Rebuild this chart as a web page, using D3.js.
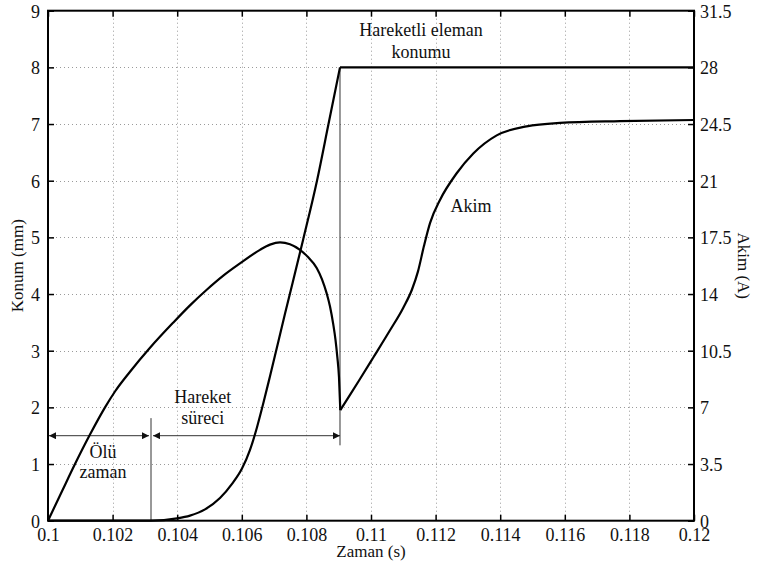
<!DOCTYPE html>
<html>
<head>
<meta charset="utf-8">
<script src="https://cdn.jsdelivr.net/npm/d3@7"></script>
<style>
  html, body { margin: 0; padding: 0; background: #fff; }
  svg text { font-family: "Liberation Serif", "Times New Roman", "DejaVu Serif", serif; fill: #111; }
</style>
</head>
<body>
<svg id="chart" width="757" height="574"></svg>
<script>
// Time axis ticks (s)
const timeTicks = [0.1, 0.102, 0.104, 0.106, 0.108, 0.11, 0.112, 0.114, 0.116, 0.118, 0.12];
const timeTickLabels = ["0.1", "0.102", "0.104", "0.106", "0.108", "0.11", "0.112", "0.114", "0.116", "0.118", "0.12"];
// Left axis: position (mm)
const posTicks = [0, 1, 2, 3, 4, 5, 6, 7, 8, 9];
// Right axis: current (A)
const curTicks = [0, 3.5, 7, 10.5, 14, 17.5, 21, 24.5, 28, 31.5];

// Moving element position (mm): dead time, travel, then held at the stop
const posRiseTime = [0.1, 0.103189, 0.103994, 0.104396, 0.104861, 0.105325, 0.105697, 0.106006, 0.106254, 0.106471, 0.106656, 0.106873, 0.107337, 0.107895, 0.108328, 0.108684, 0.10904];
const posRiseVal  = [0,   0,        0.04,     0.09,     0.20,     0.40,     0.65,     0.92,     1.25,     1.65,     2.05,     2.55,     3.65,     4.95,     6.00,     7.00,     8.0];
const posHoldTime = [0.10904, 0.12];
const posHoldVal  = [8.0, 8.0];

// Coil current (A): build-up until the armature hits the stop ...
const curRiseTime = [0.1, 0.100433, 0.100836, 0.101300, 0.101765, 0.102074, 0.102539, 0.103158, 0.103870, 0.104396, 0.104923, 0.105418, 0.105944, 0.106563, 0.106873, 0.107183,
                     0.107492, 0.107802, 0.108050, 0.108319, 0.108483, 0.108628, 0.108731, 0.108833, 0.108901, 0.108957, 0.109009, 0.10905];
const curRiseVal  = [0,   1.82,     3.50,     5.32,     7.00,     7.98,     9.20,     10.68,    12.22,    13.30,    14.28,    15.12,    15.89,    16.73,    17.05,    17.19,
                     17.08,    16.73,    16.28,    15.61,    14.91,    14.04,    13.23,    12.11,    11.17,    10.12,    8.86,     6.83];
// ... and recovery towards the steady-state value afterwards
const curSettleTime = [0.10905, 0.109350, 0.109659, 0.110071, 0.110588, 0.111000, 0.111269, 0.111455, 0.111641, 0.111827, 0.112136, 0.112653, 0.113167, 0.113892, 0.114820, 0.115851, 0.117709, 0.12];
const curSettleVal  = [6.83,    7.77,     8.75,     10.08,    11.76,    13.16,    14.28,    15.40,    16.98,    18.38,    19.81,    21.46,    22.68,    23.80,    24.36,    24.57,    24.68,    24.75];

// Annotated intervals
const deadTimeEnd = 0.103189;
const motionEnd = 0.10904;

const svg = d3.select("#chart");
const L = 48, R = 694, T = 10.7, B = 520.7;

const x = d3.scaleLinear().domain([0.1, 0.12]).range([L, R]);
const yPos = d3.scaleLinear().domain([0, 9]).range([B, T]);
const yCur = d3.scaleLinear().domain([0, 31.5]).range([B, T]);

// Dotted grid
const grid = svg.append("g").attr("stroke", "#9a9a9a").attr("stroke-width", 1).attr("stroke-dasharray", "1,3");
grid.selectAll("line.v").data(timeTicks.slice(1, -1)).join("line")
  .attr("x1", d => Math.round(x(d)) + 0.5).attr("x2", d => Math.round(x(d)) + 0.5)
  .attr("y1", T).attr("y2", B);
grid.selectAll("line.h").data(posTicks.slice(1, -1)).join("line")
  .attr("y1", d => Math.round(yPos(d)) + 0.5).attr("y2", d => Math.round(yPos(d)) + 0.5)
  .attr("x1", L).attr("x2", R);

// Axes with inward ticks
const fmt = d => timeTickLabels[timeTicks.indexOf(d)];
const axBottom = svg.append("g").attr("transform", `translate(0,${B})`)
  .call(d3.axisBottom(x).tickValues(timeTicks).tickFormat(fmt).tickSizeInner(-6).tickSizeOuter(0).tickPadding(10));
const axTop = svg.append("g").attr("transform", `translate(0,${T})`)
  .call(d3.axisTop(x).tickValues(timeTicks).tickFormat("").tickSizeInner(-6).tickSizeOuter(0));
const axLeft = svg.append("g").attr("transform", `translate(${L},0)`)
  .call(d3.axisLeft(yPos).tickValues(posTicks).tickFormat(d3.format("d")).tickSizeInner(-6).tickSizeOuter(0).tickPadding(8));
const axRight = svg.append("g").attr("transform", `translate(${R},0)`)
  .call(d3.axisRight(yCur).tickValues(curTicks).tickFormat(d => String(d)).tickSizeInner(-6).tickSizeOuter(0).tickPadding(6));

[axBottom, axTop, axLeft, axRight].forEach(g => {
  g.select(".domain").remove();
  g.attr("font-family", null);
  g.selectAll(".tick line").attr("stroke", "#000").attr("stroke-width", 1.5);
  g.selectAll(".tick text").attr("font-size", 18).attr("fill", "#111");
});
axBottom.selectAll(".tick text").attr("dy", "0.55em");
axLeft.selectAll(".tick text").attr("dy", "0.35em");
axRight.selectAll(".tick text").attr("dy", "0.35em");

// Annotation lines
const ann = svg.append("g").attr("stroke", "#333").attr("stroke-width", 1).attr("fill", "none");
ann.append("line").attr("x1", x(deadTimeEnd)).attr("x2", x(deadTimeEnd)).attr("y1", yPos(1.81)).attr("y2", B);
ann.append("line").attr("x1", x(motionEnd)).attr("x2", x(motionEnd)).attr("y1", yPos(8)).attr("y2", yPos(1.33));

const defs = svg.append("defs");
defs.append("marker").attr("id", "ah").attr("viewBox", "0 0 10 10").attr("refX", 10).attr("refY", 5)
  .attr("markerWidth", 11).attr("markerHeight", 7).attr("markerUnits", "userSpaceOnUse").attr("orient", "auto-start-reverse")
  .append("path").attr("d", "M0,0 L10,5 L0,10 Z").attr("fill", "#111");

const arrowY = yPos(1.5);
ann.append("line").attr("x1", x(0.1) + 1).attr("x2", x(deadTimeEnd) - 2).attr("y1", arrowY).attr("y2", arrowY)
  .attr("marker-start", "url(#ah)").attr("marker-end", "url(#ah)");
ann.append("line").attr("x1", x(deadTimeEnd) + 2).attr("x2", x(motionEnd)).attr("y1", arrowY).attr("y2", arrowY)
  .attr("marker-start", "url(#ah)").attr("marker-end", "url(#ah)");

// Curves
const curves = svg.append("g").attr("fill", "none").attr("stroke", "#000").attr("stroke-width", 2.2).attr("stroke-linejoin", "round");
const lineOf = (ys, curve) => d3.line().x(d => x(d[0])).y(d => ys(d[1])).curve(curve);
const zip = (a, b) => a.map((v, i) => [v, b[i]]);

curves.append("path").attr("d", lineOf(yPos, d3.curveMonotoneX)(zip(posRiseTime, posRiseVal)));
curves.append("path").attr("d", lineOf(yPos, d3.curveLinear)(zip(posHoldTime, posHoldVal)));
curves.append("path").attr("d", lineOf(yCur, d3.curveMonotoneX)(zip(curRiseTime, curRiseVal)));
curves.append("path").attr("d", lineOf(yCur, d3.curveMonotoneX)(zip(curSettleTime, curSettleVal)));

// Frame
svg.append("rect").attr("x", L).attr("y", T).attr("width", R - L).attr("height", B - T)
  .attr("fill", "none").attr("stroke", "#000").attr("stroke-width", 2);

// Axis titles
svg.append("text").attr("x", (L + R) / 2).attr("y", 557).attr("text-anchor", "middle").attr("font-size", 17).text("Zaman (s)");
svg.append("text").attr("transform", `translate(23,${(T + B) / 2}) rotate(-90)`).attr("text-anchor", "middle").attr("font-size", 17).text("Konum (mm)");
svg.append("text").attr("transform", `translate(738,${(T + B) / 2}) rotate(90)`).attr("text-anchor", "middle").attr("font-size", 17).text("Akim (A)");

// Curve and interval labels
const lab = (t, tx, ty) => svg.append("text").attr("x", tx).attr("y", ty).attr("text-anchor", "middle").attr("font-size", 18).text(t);
lab("Hareketli eleman", x(0.11155), 36);
lab("konumu", x(0.11155), 58);
lab("Akim", x(0.11310), 212);
lab("Hareket", x(0.10479), 403);
lab("süreci", x(0.10479), 424);
lab("Ölü", x(0.10170), 458);
lab("zaman", x(0.10170), 478);
</script>
</body>
</html>
